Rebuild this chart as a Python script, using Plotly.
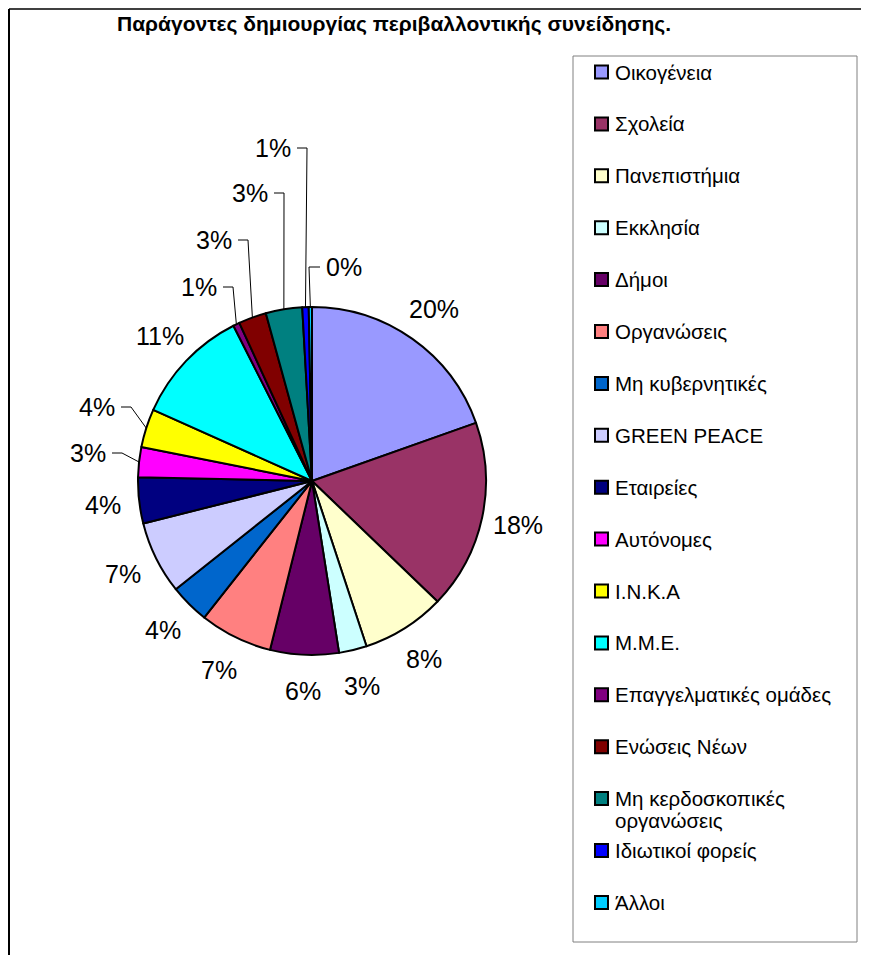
import math
import textwrap
import plotly.graph_objects as go

# ---------------- data ----------------
categories = [
    "Οικογένεια", "Σχολεία", "Πανεπιστήμια", "Εκκλησία", "Δήμοι", "Οργανώσεις",
    "Μη κυβερνητικές", "GREEN PEACE", "Εταιρείες", "Αυτόνομες", "Ι.Ν.Κ.Α", "Μ.Μ.Ε.",
    "Επαγγελματικές ομάδες", "Ενώσεις Νέων", "Μη κερδοσκοπικές οργανώσεις",
    "Ιδιωτικοί φορείς", "Άλλοι",
]
values = [19.7, 17.7, 7.8, 2.6, 6.4, 6.8, 3.7, 6.8, 4.3, 2.8, 3.6, 10.9, 0.6, 2.6, 3.4, 0.6, 0.3]
colors = [
    "#9999FF", "#993366", "#FFFFCC", "#CCFFFF", "#660066", "#FF8080", "#0066CC",
    "#CCCCFF", "#000080", "#FF00FF", "#FFFF00", "#00FFFF", "#800080", "#800000",
    "#008080", "#0000FF", "#00CCFF",
]
title_text = "Παράγοντες δημιουργίας περιβαλλοντικής συνείδησης."

# ---------------- layout constants (screen pixels) ----------------
W, H = 869, 955
OFF = 8                      # page body margin
FW, FH = W - OFF, H - OFF    # figure size
CX, CY, R = 312, 481, 174
LABEL_R = 1.21
FONT = "Liberation Sans, Arial, sans-serif"

# labels that were moved off the pie and joined to it by a leader line:
# (anchor x, anchor y, side of text the leader leaves from)
callouts = {
    "Αυτόνομες": (108, 453, "right"),
    "Ι.Ν.Κ.Α": (117, 407, "right"),
    "Επαγγελματικές ομάδες": (219, 287, "right"),
    "Ενώσεις Νέων": (234, 240, "right"),
    "Μη κερδοσκοπικές οργανώσεις": (270, 193, "right"),
    "Ιδιωτικοί φορείς": (293, 148, "right"),
    "Άλλοι": (324, 267, "left"),
}


def px(x):
    return (x - OFF) / FW


def py(y):
    return 1 - (y - OFF) / FH


fig = go.Figure()
fig.add_trace(go.Pie(
    labels=categories,
    values=values,
    sort=False,
    direction="clockwise",
    rotation=0,
    marker=dict(colors=colors, line=dict(color="#000000", width=2)),
    textinfo="none",
    hoverinfo="label+percent",
    showlegend=False,
    domain=dict(x=[px(CX - R), px(CX + R)], y=[py(CY + R), py(CY - R)]),
))

annotations = []
shapes = []

total = sum(values)
cum = 0.0
for name, v in zip(categories, values):
    a0 = cum / total * 360
    cum += v
    a1 = cum / total * 360
    mid = math.radians((a0 + a1) / 2)
    label = f"{round(v / total * 100)}%"
    if name in callouts:
        lx, ly, side = callouts[name]
        annotations.append(dict(
            x=px(lx), y=py(ly), xref="paper", yref="paper", text=label,
            showarrow=False, xanchor="right" if side == "right" else "left",
            yanchor="middle", font=dict(family=FONT, size=25, color="#000000"),
        ))
        ex = CX + R * math.sin(mid)
        ey = CY - R * math.cos(mid)
        sx = lx + 4 if side == "right" else lx - 4
        elbow = sx + 10 if side == "right" else sx - 11
        shapes.append(dict(
            type="path", xref="paper", yref="paper",
            path=f"M {px(sx)} {py(ly)} L {px(elbow)} {py(ly)} L {px(ex)} {py(ey)}",
            line=dict(color="#000000", width=1),
        ))
    else:
        lx = CX + R * LABEL_R * math.sin(mid)
        ly = CY - R * LABEL_R * math.cos(mid)
        annotations.append(dict(
            x=px(lx), y=py(ly), xref="paper", yref="paper", text=label,
            showarrow=False, xanchor="center", yanchor="middle",
            font=dict(family=FONT, size=25, color="#000000"),
        ))

# title
annotations.append(dict(
    x=px(394), y=py(24), xref="paper", yref="paper", text=f"<b>{title_text}</b>",
    showarrow=False, xanchor="center", yanchor="middle",
    font=dict(family=FONT, size=21, color="#000000"),
))

# chart frame
shapes.append(dict(type="line", xref="paper", yref="paper", x0=px(9), x1=px(W + 5),
                   y0=py(9), y1=py(9), line=dict(color="#404040", width=2)))
shapes.append(dict(type="line", xref="paper", yref="paper", x0=px(9), x1=px(9),
                   y0=py(9), y1=py(H + 5), line=dict(color="#000000", width=2)))

# legend (drawn by hand to match the spacing of the original)
shapes.append(dict(type="rect", xref="paper", yref="paper", x0=px(573), x1=px(857),
                   y0=py(942), y1=py(56), line=dict(color="#808080", width=1),
                   fillcolor="rgba(0,0,0,0)"))
LEG_Y0, LEG_STEP, LINE_H = 72, 51.9, 22
for i, (name, c) in enumerate(zip(categories, colors)):
    yc = LEG_Y0 + i * LEG_STEP
    shapes.append(dict(type="rect", xref="paper", yref="paper",
                       x0=px(595), x1=px(608), y0=py(yc + 6.5), y1=py(yc - 6.5),
                       fillcolor=c, line=dict(color="#000000", width=2)))
    for j, line in enumerate(textwrap.wrap(name, 22)):
        annotations.append(dict(
            x=px(613), y=py(yc + j * LINE_H), xref="paper", yref="paper", text=line,
            showarrow=False, xanchor="left", yanchor="middle",
            font=dict(family=FONT, size=20.5, color="#000000"),
        ))

fig.update_layout(
    width=FW, height=FH,
    margin=dict(l=0, r=0, t=0, b=0),
    paper_bgcolor="#FFFFFF", plot_bgcolor="#FFFFFF",
    annotations=annotations, shapes=shapes,
    showlegend=False,
)
fig.write_html("out.html")
